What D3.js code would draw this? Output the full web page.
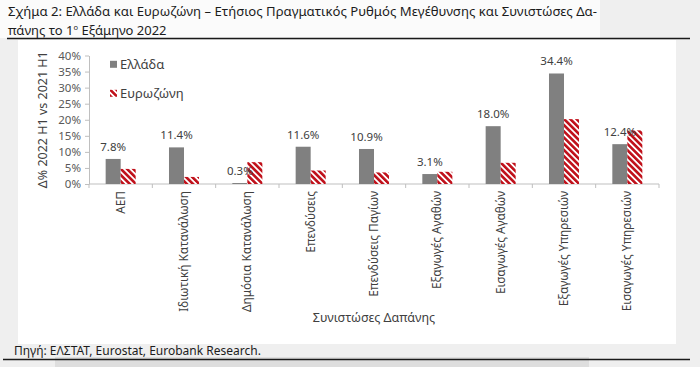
<!DOCTYPE html>
<html><head><meta charset="utf-8">
<script src="https://cdn.jsdelivr.net/npm/d3@7"></script>
<style>
html,body{margin:0;padding:0;background:#efefef;}
svg{display:block;font-family:"Noto Sans","Open Sans",sans-serif;}
</style></head>
<body>
<svg id="c" width="700" height="367"></svg>
<script>
const categories = ["ΑΕΠ","Ιδιωτική Κατανάλωση","Δημόσια Κατανάλωση","Επενδύσεις","Επενδύσεις Παγίων","Εξαγωγές Αγαθών","Εισαγωγές Αγαθών","Εξαγωγές Υπηρεσιών","Εισαγωγές Υπηρεσιών"];
const seriesNames = ["Ελλάδα","Ευρωζώνη"];
const greece = [7.8, 11.4, 0.3, 11.6, 10.9, 3.1, 18.0, 34.4, 12.4];
const eurozone = [4.7, 2.2, 6.8, 4.2, 3.6, 3.8, 6.6, 20.2, 16.7];
const yTicks = [0,5,10,15,20,25,30,35,40];
const titleLine1 = "Σχήμα 2: Ελλάδα και Ευρωζώνη – Ετήσιος Πραγματικός Ρυθμός Μεγέθυνσης και Συνιστώσες Δα-";
const titleLine2a = "πάνης το 1", titleSup = "ο", titleLine2b = " Εξάμηνο 2022";
const yTitle = "Δ% 2022 H1 vs 2021 H1";
const xTitle = "Συνιστώσες Δαπάνης";
const source = "Πηγή: ΕΛΣΤΑΤ, Eurostat, Eurobank Research.";

const svg = d3.select("#c");
const defs = svg.append("defs");
const pat = defs.append("pattern").attr("id","hatch").attr("patternUnits","userSpaceOnUse")
  .attr("width",4.4).attr("height",4.4).attr("patternTransform","rotate(-45)");
pat.append("rect").attr("width",4.4).attr("height",4.4).attr("fill","#ffffff");
pat.append("rect").attr("width",2.6).attr("height",4.4).attr("fill","#c0101a");

// backgrounds
svg.append("rect").attr("x",0).attr("y",0).attr("width",600).attr("height",38).attr("fill","#fbfbfb");
svg.append("rect").attr("x",18).attr("y",40).attr("width",658).attr("height",304).attr("fill","#ffffff");
svg.append("rect").attr("x",55).attr("y",357).attr("width",534).attr("height",10).attr("fill","#dedede");

// title
svg.append("text").attr("x",8).attr("y",16).attr("font-size",13).attr("fill","#1c1c1c")
  .attr("textLength",589).attr("lengthAdjust","spacingAndGlyphs").text(titleLine1);
const t2 = svg.append("text").attr("x",8).attr("y",34.5).attr("font-size",13).attr("fill","#1c1c1c");
t2.append("tspan").text(titleLine2a);
t2.append("tspan").attr("font-size",7.5).attr("dy",-4.5).text(titleSup);
t2.append("tspan").attr("dy",4.5).text(titleLine2b);
svg.append("line").attr("x1",7).attr("x2",690).attr("y1",38.5).attr("y2",38.5).attr("stroke","#1a1a1a").attr("stroke-width",1.5);

// scales
const x0 = d3.scaleBand().domain(categories).range([89,659]).paddingInner(0.526).paddingOuter(0.263);
const x1 = d3.scaleBand().domain(seriesNames).range([0,x0.bandwidth()]);
const y = d3.scaleLinear().domain([0,40]).range([184,55.5]);

// y axis
const yAxis = svg.append("g").attr("transform","translate(89,0)")
  .call(d3.axisLeft(y).tickValues(yTicks).tickFormat(d=>d+"%").tickSize(4).tickSizeOuter(0));
yAxis.select(".domain").attr("stroke","#bfbfbf");
yAxis.selectAll(".tick line").attr("stroke","#bfbfbf");
yAxis.selectAll(".tick text").attr("fill","#595959").attr("font-size",11.5)
  .attr("font-family","'Noto Sans',sans-serif").attr("x",-8);

// x axis
const half = (x0.step()-x0.bandwidth())/2;
const bounds = categories.map(c=>x0(c)-half).concat([x0(categories[categories.length-1])+x0.bandwidth()+half]);
svg.append("line").attr("x1",x0.range()[0]).attr("x2",x0.range()[1]).attr("y1",y(0)).attr("y2",y(0)).attr("stroke","#bfbfbf");
svg.selectAll(".xt").data(bounds).enter().append("line")
  .attr("x1",d=>d).attr("x2",d=>d).attr("y1",y(0)).attr("y2",y(0)+4).attr("stroke","#bfbfbf");

// bars
const rows = categories.map((c,i)=>({c, vals:[{s:seriesNames[0],v:greece[i]},{s:seriesNames[1],v:eurozone[i]}]}));
const g = svg.selectAll(".grp").data(rows).enter().append("g").attr("transform",d=>`translate(${x0(d.c)},0)`);
g.selectAll("rect").data(d=>d.vals).enter().append("rect")
  .attr("x",d=>x1(d.s)).attr("width",x1.bandwidth())
  .attr("y",d=>y(d.v)).attr("height",d=>y(0)-y(d.v))
  .attr("fill",d=>d.s===seriesNames[0]?"#808080":"url(#hatch)");

// data labels (Greece)
g.append("text").attr("x",x1(seriesNames[0])+x1.bandwidth()/2).attr("y",d=>y(d.vals[0].v)-8)
  .attr("text-anchor","middle").attr("font-size",11.5).attr("fill","#404040")
  .text(d=>d.vals[0].v.toFixed(1)+"%");

// x labels
svg.selectAll(".xl").data(categories).enter().append("text")
  .attr("transform",d=>`translate(${x0(d)+x0.bandwidth()/2},191) rotate(-90)`)
  .attr("text-anchor","end").attr("dy","0.35em").attr("font-size",11.8).attr("fill","#404040").text(d=>d);

// axis titles
svg.append("text").attr("transform",`translate(43,${(y(0)+y(40))/2}) rotate(-90)`)
  .attr("text-anchor","middle").attr("dy","0.35em").attr("font-size",12.5).attr("fill","#404040").text(yTitle);
svg.append("text").attr("x",(x0.range()[0]+x0.range()[1])/2).attr("y",318).attr("dy","0.35em")
  .attr("text-anchor","middle").attr("font-size",12.5).attr("fill","#404040").text(xTitle);

// legend
const leg = [{s:seriesNames[0],y:64.3,fill:"#808080"},{s:seriesNames[1],y:93.3,fill:"url(#hatch)"}];
leg.forEach(l=>{
  svg.append("rect").attr("x",110).attr("y",l.y-3.5).attr("width",7).attr("height",7).attr("fill",l.fill);
  svg.append("text").attr("x",120).attr("y",l.y).attr("dy","0.35em").attr("font-size",13).attr("fill","#404040").text(l.s);
});

// source
svg.append("text").attr("x",14).attr("y",355).attr("font-size",12).attr("fill","#1c1c1c").text(source);
svg.append("line").attr("x1",3).attr("x2",690).attr("y1",359.5).attr("y2",359.5).attr("stroke","#1a1a1a").attr("stroke-width",1.3);
</script>
</body></html>
